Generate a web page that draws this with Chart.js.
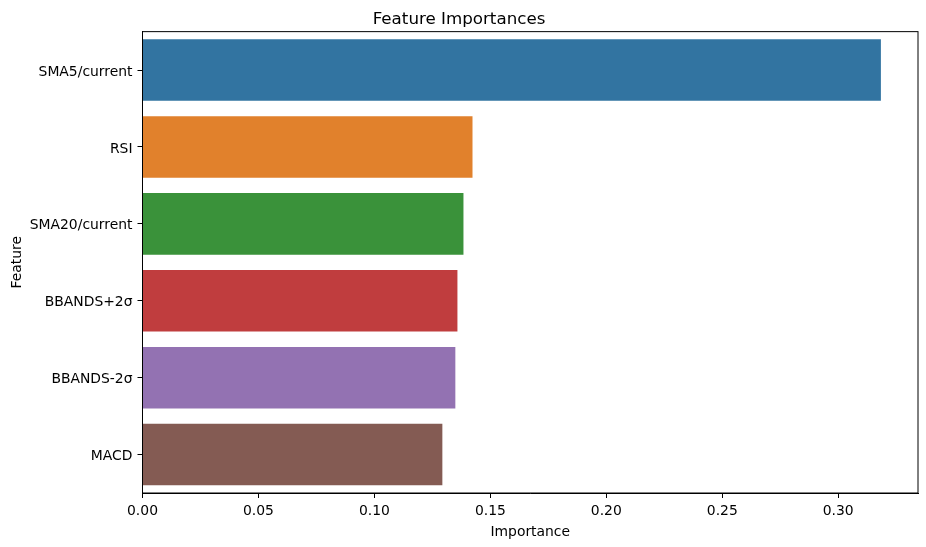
<!DOCTYPE html>
<html>
<head>
<meta charset="utf-8">
<script src="https://cdn.jsdelivr.net/npm/chart.js@4/dist/chart.umd.min.js"></script>
<style>
  html, body { margin: 0; padding: 0; background: #fff; }
  #wrap { width: 926px; height: 547px; }
</style>
</head>
<body>
<div id="wrap"><canvas id="chart"></canvas></div>
<script>
// Feature importances
const features = ['SMA5/current', 'RSI', 'SMA20/current', 'BBANDS+2σ', 'BBANDS-2σ', 'MACD'];
const importances = [0.3184, 0.1423, 0.1384, 0.1358, 0.1349, 0.1293];
const barColors = ['#3274a1', '#e1812c', '#3a923a', '#c03d3e', '#9372b2', '#845b53'];
const xMax = 0.3344;

const font = 'DejaVu Sans';

// draws the full box around the plot area (matplotlib spines)
const frame = {
    id: 'frame',
    afterDraw(chart) {
        const a = chart.chartArea;
        const ctx = chart.ctx;
        ctx.save();
        ctx.strokeStyle = '#000';
        ctx.lineWidth = 1;
        ctx.strokeRect(a.left, a.top, a.right - a.left, a.bottom - a.top);
        ctx.restore();
    }
};

new Chart(document.getElementById('chart'), {
    type: 'bar',
    data: {
        labels: features,
        datasets: [{
            data: importances,
            backgroundColor: barColors,
            borderWidth: 0,
            categoryPercentage: 0.8,
            barPercentage: 1.0
        }]
    },
    options: {
        indexAxis: 'y',
        responsive: true,
        maintainAspectRatio: false,
        animation: false,
        layout: { padding: { left: 0, right: 8, top: 0, bottom: 0 } },
        plugins: {
            legend: { display: false },
            tooltip: { enabled: false },
            title: {
                display: true,
                text: 'Feature Importances',
                color: '#000',
                font: { family: font, size: 16.7, weight: 'normal' },
                padding: { top: 10, bottom: 1.6 }
            }
        },
        scales: {
            x: {
                min: 0,
                max: xMax,
                border: { display: true, color: '#000', width: 1 },
                grid: {
                    display: true,
                    drawOnChartArea: false,
                    drawTicks: true,
                    tickLength: 5,
                    tickColor: '#000'
                },
                ticks: {
                    stepSize: 0.05,
                    includeBounds: false,
                    color: '#000',
                    padding: 5,
                    font: { family: font, size: 13.9 },
                    callback: (v) => v.toFixed(2)
                },
                title: {
                    display: true,
                    text: 'Importance',
                    color: '#000',
                    font: { family: font, size: 13.9 },
                    padding: { top: 0, bottom: 6.7 }
                },
                afterFit: (scale) => { scale.height = 54; }
            },
            y: {
                offset: true,
                border: { display: true, color: '#000', width: 1 },
                grid: {
                    display: true,
                    drawOnChartArea: false,
                    drawTicks: true,
                    tickLength: 5,
                    tickColor: '#000',
                    offset: false
                },
                ticks: {
                    color: '#000',
                    padding: 5,
                    labelOffset: 2,
                    font: { family: font, size: 13.9 }
                },
                title: {
                    display: true,
                    text: 'Feature',
                    color: '#000',
                    font: { family: font, size: 13.9 },
                    padding: { top: 8.7, bottom: 0 }
                },
                afterFit: (scale) => { scale.width = 142.5; }
            }
        }
    },
    plugins: [frame]
});
</script>
</body>
</html>
